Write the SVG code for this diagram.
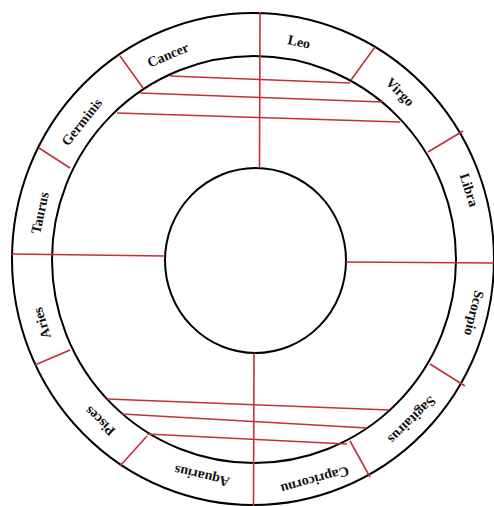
<svg xmlns="http://www.w3.org/2000/svg" width="494" height="506" viewBox="0 0 494 506">
<style>
.ring{fill:none;stroke:#000;stroke-width:2}
.red{stroke:#c2303a;stroke-width:1.6;fill:none}
.lbl{font-family:"Liberation Serif","Times New Roman",serif;font-weight:bold;font-size:14px;fill:#111;text-anchor:middle;dominant-baseline:central}
</style>
<rect width="494" height="506" fill="#fff"/>
<g id="rings">
<ellipse class="ring" cx="253" cy="259" rx="241" ry="246"/>
<ellipse class="ring" cx="254" cy="259.5" rx="202" ry="203.5"/>
<ellipse class="ring" cx="255.5" cy="260.5" rx="90.5" ry="92.5"/>
</g>
<g id="connectors">
<line class="red" x1="260" y1="12" x2="259.5" y2="168"/>
<line class="red" x1="254" y1="353" x2="253.5" y2="506"/>
<line class="red" x1="12" y1="254" x2="165" y2="256"/>
<line class="red" x1="346" y1="262" x2="494" y2="263"/>
<line class="red" x1="170" y1="76" x2="350" y2="83"/>
<line class="red" x1="140" y1="93" x2="382" y2="102"/>
<line class="red" x1="117" y1="113" x2="400" y2="122"/>
<line class="red" x1="107" y1="399" x2="389" y2="410"/>
<line class="red" x1="122" y1="414" x2="367" y2="428"/>
<line class="red" x1="147" y1="434" x2="347" y2="444"/>
<line class="red" x1="120" y1="56" x2="143" y2="88"/>
<line class="red" x1="39" y1="148" x2="70" y2="168"/>
<line class="red" x1="375" y1="47" x2="351" y2="80"/>
<line class="red" x1="463" y1="131" x2="428" y2="152"/>
<line class="red" x1="35" y1="365" x2="70" y2="350"/>
<line class="red" x1="120" y1="466" x2="147" y2="436"/>
<line class="red" x1="430" y1="364" x2="465" y2="386"/>
<line class="red" x1="350" y1="441" x2="370" y2="477"/>
</g>
<g id="cancer"><text class="lbl" transform="translate(168,55) rotate(-22.6)">Cancer</text></g>
<g id="leo"><text class="lbl" transform="translate(299,42) rotate(12)">Leo</text></g>
<g id="virgo"><text class="lbl" transform="translate(400,92) rotate(45)">Virgo</text></g>
<g id="libra"><text class="lbl" transform="translate(469,190) rotate(72.3)">Libra</text></g>
<g id="scorpio"><text class="lbl" transform="translate(474,313) rotate(103.7)">Scorpio</text></g>
<g id="sagittarius"><text class="lbl" transform="translate(412,420) rotate(135.4)">Sagitairus</text></g>
<g id="capricorn"><text class="lbl" transform="translate(315,480) rotate(164.3)">Capricornu</text></g>
<g id="aquarius"><text class="lbl" transform="translate(202,476) rotate(193.2)">Aquarius</text></g>
<g id="pisces"><text class="lbl" transform="translate(100,421) rotate(223.4)">Pisces</text></g>
<g id="aries"><text class="lbl" transform="translate(42,323) rotate(253.1)">Aries</text></g>
<g id="taurus"><text class="lbl" transform="translate(40,213) rotate(-77.8)">Taurus</text></g>
<g id="germinis"><text class="lbl" transform="translate(82,122) rotate(-51.3)">Germinis</text></g>
</svg>
